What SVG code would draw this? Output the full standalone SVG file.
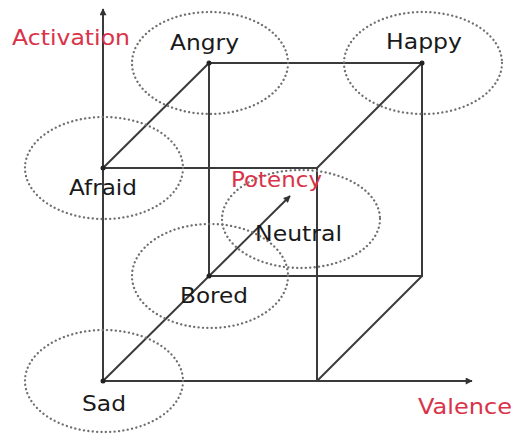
<svg xmlns="http://www.w3.org/2000/svg" width="515" height="436" viewBox="0 0 515 436">
<defs>
<marker id="arr" viewBox="0 0 10 10" refX="9" refY="5" markerWidth="8" markerHeight="7" markerUnits="userSpaceOnUse" orient="auto">
<path d="M0,0 L10,5 L0,10 z" fill="#333"/>
</marker>
</defs>
<style>
.e{fill:none;stroke:#6f6f6f;stroke-width:2.3;stroke-dasharray:0.1 4.3;stroke-linecap:round}
.l{stroke:#3a3a3a;stroke-width:2;fill:none}
.t{font-family:"DejaVu Sans",sans-serif;font-size:22px;fill:#1a1a1a}
.r{font-family:"DejaVu Sans",sans-serif;font-size:22px;fill:#d9334a}
.v{fill:#222}
</style>
<rect width="515" height="436" fill="#fff"/>
<g id="connectors">
<line class="l" x1="103" y1="381" x2="103" y2="9" marker-end="url(#arr)"/>
<line class="l" x1="103" y1="381" x2="472" y2="381" marker-end="url(#arr)"/>
<line class="l" x1="103" y1="381" x2="290" y2="196" marker-end="url(#arr)"/>
<polyline class="l" points="103,168 317,168 317,381"/>
<rect class="l" x="209" y="63" width="213" height="213"/>
<line class="l" x1="103" y1="168" x2="209" y2="63"/>
<line class="l" x1="317" y1="168" x2="422" y2="63"/>
<line class="l" x1="317" y1="381" x2="422" y2="276"/>
</g>
<g id="angry">
<ellipse class="e" cx="210" cy="63" rx="78" ry="51"/>
<circle class="v" cx="209" cy="63" r="2.5"/>
<text class="t" x="170" y="50" textLength="69" lengthAdjust="spacingAndGlyphs">Angry</text>
</g>
<g id="happy">
<ellipse class="e" cx="423" cy="63" rx="79" ry="51"/>
<circle class="v" cx="422" cy="63" r="2.5"/>
<text class="t" x="386" y="49" textLength="76" lengthAdjust="spacingAndGlyphs">Happy</text>
</g>
<g id="afraid">
<ellipse class="e" cx="104" cy="168" rx="79" ry="51"/>
<circle class="v" cx="103" cy="168" r="2.5"/>
<text class="t" x="69" y="195" textLength="68" lengthAdjust="spacingAndGlyphs">Afraid</text>
</g>
<g id="neutral">
<ellipse class="e" cx="301" cy="219" rx="79" ry="49"/>
<text class="t" x="255" y="241" textLength="87" lengthAdjust="spacingAndGlyphs">Neutral</text>
</g>
<g id="bored">
<ellipse class="e" cx="210" cy="276" rx="78" ry="52"/>
<circle class="v" cx="209" cy="276" r="2.5"/>
<text class="t" x="180" y="303" textLength="68" lengthAdjust="spacingAndGlyphs">Bored</text>
</g>
<g id="sad">
<ellipse class="e" cx="104" cy="381" rx="79" ry="51"/>
<circle class="v" cx="103" cy="381" r="2.5"/>
<text class="t" x="82" y="411" textLength="44" lengthAdjust="spacingAndGlyphs">Sad</text>
</g>
<g id="labels">
<text class="r" x="12" y="45" textLength="118" lengthAdjust="spacingAndGlyphs">Activation</text>
<text class="r" x="231" y="187" textLength="91" lengthAdjust="spacingAndGlyphs">Potency</text>
<text class="r" x="418" y="414" textLength="94" lengthAdjust="spacingAndGlyphs">Valence</text>
</g>
</svg>
